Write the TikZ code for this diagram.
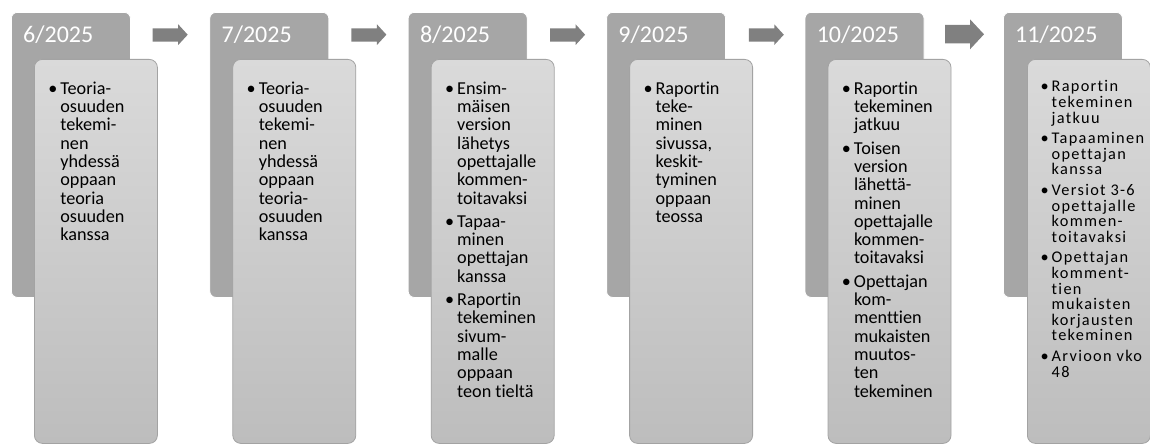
\documentclass[tikz,border=0pt]{standalone}
\usepackage{fontspec}
\setmainfont{Carlito}[Ligatures=NoCommon]
\newfontfamily\widefont{Carlito}[LetterSpace=8,Ligatures=NoCommon]
\definecolor{backgray}{HTML}{A6A6A6}
\definecolor{fronttop}{HTML}{DADADA}
\definecolor{frontbot}{HTML}{BDBDBD}
\definecolor{frontline}{HTML}{A3A3A3}
\definecolor{arrowgray}{HTML}{808080}
\newcommand\mybul{\leavevmode\llap{\textbullet\hspace{3pt}}}
\begin{document}
\begin{tikzpicture}[x=1pt,y=-1pt,
  backbox/.style={fill=backgray, draw=white, line width=0.8pt, rounded corners=6pt,
    minimum width=119pt, minimum height=285pt, anchor=north west, inner sep=0pt},
  frontbox/.style={top color=fronttop, bottom color=frontbot, draw=frontline, line width=0.8pt,
    rounded corners=8pt, minimum width=123pt, minimum height=384pt, anchor=north west, inner sep=0pt},
  datetext/.style={text=white, font=\fontsize{24}{28}\selectfont, anchor=base west, inner sep=0pt},
  bodytext/.style={font=\fontsize{18.2}{18.3}\selectfont, align=left, anchor=north west, inner sep=0pt},
  smalltext/.style={font=\fontsize{16.3}{15.6}\selectfont\widefont, align=left, anchor=north west, inner sep=0pt},
  arrowshape/.style={fill=arrowgray}]
\useasboundingbox (0,0) rectangle (1150,444);

% panel 1
\node[backbox] (b1) at (11,12) {};
\node[datetext] (d1) at (23,43) {6/2025};
\node[frontbox] (f1) at (34,59) {};
\node[bodytext] (t1) at (60.2,81) {\rule{0pt}{13pt}\mybul Teoria-\\osuuden\\tekemi-\\nen\\yhdessä\\oppaan\\teoria\\osuuden\\kanssa};

% panel 2
\node[backbox] (b2) at (209.4,12) {};
\node[datetext] (d2) at (221.4,43) {7/2025};
\node[frontbox] (f2) at (232.4,59) {};
\node[bodytext] (t2) at (258.6,81) {\rule{0pt}{13pt}\mybul Teoria-\\osuuden\\tekemi-\\nen\\yhdessä\\oppaan\\teoria-\\osuuden\\kanssa};

% panel 3
\node[backbox] (b3) at (407.8,12) {};
\node[datetext] (d3) at (419.8,43) {8/2025};
\node[frontbox] (f3) at (430.8,59) {};
\node[bodytext] (t3) at (457,81) {\rule{0pt}{13pt}\mybul Ensim-\\mäisen\\version\\lähetys\\opettajalle\\kommen-\\toitavaksi\\[5pt]\mybul Tapaa-\\minen\\opettajan\\kanssa\\[5pt]\mybul Raportin\\tekeminen\\sivum-\\malle\\oppaan\\teon tieltä};

% panel 4
\node[backbox] (b4) at (606.2,12) {};
\node[datetext] (d4) at (618.2,43) {9/2025};
\node[frontbox] (f4) at (629.2,59) {};
\node[bodytext] (t4) at (655.4,81) {\rule{0pt}{13pt}\mybul Raportin\\teke-\\minen\\sivussa,\\keskit-\\tyminen\\oppaan\\teossa};

% panel 5
\node[backbox] (b5) at (804.6,12) {};
\node[datetext] (d5) at (816.6,43) {10/2025};
\node[frontbox] (f5) at (827.6,59) {};
\node[bodytext] (t5) at (853.8,81) {\rule{0pt}{13pt}\mybul Raportin\\tekeminen\\jatkuu\\[5pt]\mybul Toisen\\version\\lähettä-\\minen\\opettajalle\\kommen-\\toitavaksi\\[5pt]\mybul Opettajan\\kom-\\menttien\\mukaisten\\muutos-\\ten\\tekeminen};

% panel 6
\node[backbox] (b6) at (1003,12) {};
\node[datetext] (d6) at (1015,43) {11/2025};
\node[frontbox] (f6) at (1027,59) {};
\node[smalltext] (t6) at (1051.5,80.2) {\rule{0pt}{11.5pt}\mybul Raportin\\tekeminen\\jatkuu\\[5pt]\mybul Tapaaminen\\opettajan\\kanssa\\[5pt]\mybul Versiot 3-6\\opettajalle\\kommen-\\toitavaksi\\[5pt]\mybul Opettajan\\komment-\\tien\\mukaisten\\korjausten\\tekeminen\\[5pt]\mybul Arvioon vko\\48};

% arrows
\foreach \x in {152.7, 351.4, 550.1, 748.8} {
  \fill[arrowshape] (\x,28.3) -- (\x+25.5,28.3) -- (\x+25.5,24.3) -- (\x+35,34.7)
    -- (\x+25.5,45) -- (\x+25.5,41.7) -- (\x,41.7) -- cycle;
}
\fill[arrowshape] (945,25) -- (970,25) -- (970,19.3) -- (984,34.3) -- (970,49.3) -- (970,43.5) -- (945,43.5) -- cycle;
\end{tikzpicture}
\end{document}
